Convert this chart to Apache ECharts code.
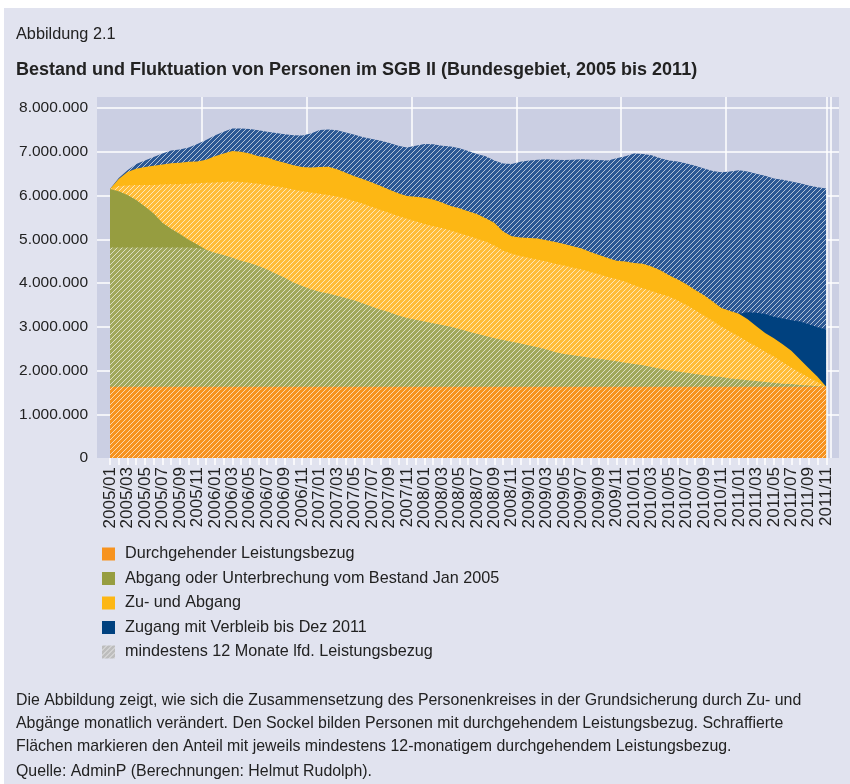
<!DOCTYPE html>
<html>
<head>
<meta charset="utf-8">
<script src="https://cdn.jsdelivr.net/npm/echarts@6/dist/echarts.min.js"></script>
<style>
  html, body { margin: 0; padding: 0; background: #fff; }
  #chart { width: 850px; height: 784px; }
</style>
</head>
<body>
<div id="chart"></div>
<script>
// Monate 2005/01 bis 2011/11
const months = [
  '2005/01','2005/02','2005/03','2005/04','2005/05','2005/06','2005/07','2005/08','2005/09','2005/10','2005/11','2005/12',
  '2006/01','2006/02','2006/03','2006/04','2006/05','2006/06','2006/07','2006/08','2006/09','2006/10','2006/11','2006/12',
  '2007/01','2007/02','2007/03','2007/04','2007/05','2007/06','2007/07','2007/08','2007/09','2007/10','2007/11','2007/12',
  '2008/01','2008/02','2008/03','2008/04','2008/05','2008/06','2008/07','2008/08','2008/09','2008/10','2008/11','2008/12',
  '2009/01','2009/02','2009/03','2009/04','2009/05','2009/06','2009/07','2009/08','2009/09','2009/10','2009/11','2009/12',
  '2010/01','2010/02','2010/03','2010/04','2010/05','2010/06','2010/07','2010/08','2010/09','2010/10','2010/11','2010/12',
  '2011/01','2011/02','2011/03','2011/04','2011/05','2011/06','2011/07','2011/08','2011/09','2011/10','2011/11'
];

// Obergrenzen der Flaechen, in Tausend Personen
// Durchgehender Leistungsbezug (Sockel)
const sockel = [
  1630,1630,1630,1630,1630,1630,1630,1630,1630,1630,1630,1630,
  1630,1630,1630,1630,1630,1630,1630,1630,1630,1630,1630,1630,
  1630,1630,1630,1630,1630,1630,1630,1630,1630,1630,1630,1630,
  1630,1630,1630,1630,1630,1630,1630,1630,1630,1630,1630,1630,
  1630,1630,1630,1630,1630,1630,1630,1630,1630,1630,1630,1630,
  1630,1630,1630,1630,1630,1630,1630,1630,1630,1630,1630,1630,
  1630,1630,1630,1630,1630,1630,1630,1630,1630,1630,1630
];
// Abgang/Unterbrechung Bestand Jan 2005, schraffierter Teil
const abgangSchraffiert = [
  4810,4810,4810,4810,4810,4810,4810,4810,4810,4810,4800,4760,
  4690,4640,4580,4510,4460,4390,4310,4210,4120,4010,3930,3860,
  3800,3760,3710,3660,3600,3530,3460,3390,3330,3260,3200,3160,
  3120,3080,3040,3000,2950,2890,2840,2790,2740,2700,2660,2620,
  2570,2530,2480,2420,2380,2350,2320,2290,2270,2240,2210,2180,
  2150,2120,2080,2040,2000,1980,1950,1920,1890,1870,1850,1820,
  1800,1780,1760,1740,1720,1700,1690,1670,1660,1640,1630
];
// Abgang/Unterbrechung Bestand Jan 2005, ungeschraffiert (nur 2005)
const abgangGesamt = [
  6150,6100,6010,5900,5750,5590,5380,5240,5120,4990,4880,4760
];
// Zu- und Abgang, schraffiert
const zuAbgangSchraffiert = [
  6150,6220,6230,6240,6240,6240,6250,6260,6260,6270,6280,6290,
  6300,6310,6320,6310,6290,6270,6240,6210,6180,6140,6100,6070,
  6040,6010,5980,5930,5870,5810,5740,5670,5600,5530,5470,5410,
  5350,5300,5260,5200,5140,5080,5010,4950,4860,4740,4670,4620,
  4570,4530,4490,4440,4400,4350,4310,4250,4200,4140,4090,4030,
  3950,3880,3820,3750,3690,3600,3500,3380,3260,3130,3000,2890,
  2780,2660,2550,2430,2320,2190,2070,1950,1840,1730,1630
];
// Zu- und Abgang, gesamt
const zuAbgangGesamt = [
  6150,6380,6540,6610,6650,6680,6710,6740,6750,6770,6780,6820,
  6900,6960,7020,7000,6960,6900,6870,6800,6750,6690,6650,6640,
  6650,6660,6600,6520,6440,6370,6300,6220,6130,6050,5990,5970,
  5950,5910,5840,5760,5710,5640,5580,5480,5380,5180,5070,5040,
  5030,5020,4980,4940,4890,4840,4790,4710,4640,4570,4510,4490,
  4460,4440,4380,4290,4180,4080,3970,3840,3720,3580,3430,3360,
  3300,3170,3010,2860,2740,2600,2450,2250,2050,1860,1630
];
// Zugang mit Verbleib bis Dez 2011, ungeschraffiert (nur 2011)
const verbleibMonate = ['2011/01','2011/02','2011/03','2011/04','2011/05','2011/06','2011/07','2011/08','2011/09','2011/10','2011/11'];
const zugangVerbleib = [3300,3330,3320,3290,3230,3190,3150,3120,3060,2990,2940];
// Bestand gesamt (Oberkante)
const bestandGesamt = [
  6150,6400,6580,6720,6800,6880,6960,7030,7050,7100,7180,7270,
  7370,7460,7530,7530,7520,7490,7460,7430,7400,7380,7370,7420,
  7500,7510,7490,7440,7390,7330,7290,7250,7200,7140,7100,7140,
  7180,7170,7140,7120,7080,7020,6950,6900,6800,6730,6720,6770,
  6800,6820,6830,6820,6810,6820,6830,6820,6810,6800,6850,6900,
  6960,6950,6920,6850,6800,6780,6730,6680,6620,6560,6530,6550,
  6580,6550,6500,6450,6390,6360,6320,6280,6230,6190,6160
];

const FONT = '"Liberation Sans", Arial, sans-serif';
const TXT = '#222';

// Schraffur als Canvas-Muster
function hatch(base) {
  const s = 5;
  const c = document.createElement('canvas');
  c.width = s; c.height = s;
  const ctx = c.getContext('2d');
  ctx.fillStyle = base;
  ctx.fillRect(0, 0, s, s);
  ctx.strokeStyle = 'rgba(255,255,255,0.8)';
  ctx.lineWidth = 0.8;
  ctx.beginPath();
  for (let k = -1; k <= 1; k++) {
    ctx.moveTo(k * s, s);
    ctx.lineTo(k * s + s, 0);
  }
  ctx.stroke();
  return { image: c, repeat: 'repeat' };
}

function area(name, data, fill) {
  return {
    name: name,
    type: 'line',
    xAxisIndex: 1,
    yAxisIndex: 1,
    data: data,
    symbol: 'none',
    silent: true,
    lineStyle: { width: 0 },
    itemStyle: { color: typeof fill === 'string' ? fill : '#888' },
    areaStyle: { color: fill, opacity: 1 }
  };
}

const fmt = v => String(Math.round(v * 1000)).replace(/\B(?=(\d{3})+(?!\d))/g, '.');

let chart = echarts.init(document.getElementById('chart'), null, { renderer: 'canvas' });

let option = {
  animation: false,
  backgroundColor: '#fff',
  graphic: [
    { type: 'rect', z: -10, shape: { x: 4, y: 8, width: 846, height: 776 }, style: { fill: '#e1e3ef' } },
    { type: 'text', x: 16, y: 35, style: { text: 'Abbildung 2.1', font: '16.3px ' + FONT, fill: TXT, verticalAlign: 'middle' } },
    { type: 'text', x: 16, y: 70, style: { text: 'Bestand und Fluktuation von Personen im SGB II (Bundesgebiet, 2005 bis 2011)', font: 'bold 18px ' + FONT, fill: TXT, verticalAlign: 'middle' } },
    { type: 'text', x: 16, y: 701, style: { text: 'Die Abbildung zeigt, wie sich die Zusammensetzung des Personenkreises in der Grundsicherung durch Zu- und', font: '15.9px ' + FONT, fill: TXT, verticalAlign: 'middle' } },
    { type: 'text', x: 16, y: 724, style: { text: 'Abgänge monatlich verändert. Den Sockel bilden Personen mit durchgehendem Leistungsbezug. Schraffierte', font: '15.9px ' + FONT, fill: TXT, verticalAlign: 'middle' } },
    { type: 'text', x: 16, y: 747, style: { text: 'Flächen markieren den Anteil mit jeweils mindestens 12-monatigem durchgehendem Leistungsbezug.', font: '15.9px ' + FONT, fill: TXT, verticalAlign: 'middle' } },
    { type: 'text', x: 16, y: 772, style: { text: 'Quelle: AdminP (Berechnungen: Helmut Rudolph).', font: '15.9px ' + FONT, fill: TXT, verticalAlign: 'middle' } }
  ],
  legend: {
    orient: 'vertical',
    left: 97,
    top: 541,
    itemWidth: 13,
    itemHeight: 13,
    itemGap: 8.5,
    icon: 'rect',
    selectedMode: false,
    textStyle: { fontSize: 16.2, lineHeight: 14, color: TXT, fontFamily: FONT, padding: [0, 0, 0, 5] },
    data: [
      { name: 'Durchgehender Leistungsbezug', itemStyle: { color: '#f7931e' } },
      { name: 'Abgang oder Unterbrechung vom Bestand Jan 2005', itemStyle: { color: '#969d40' } },
      { name: 'Zu- und Abgang', itemStyle: { color: '#fdb714' } },
      { name: 'Zugang mit Verbleib bis Dez 2011', itemStyle: { color: '#00417f' } },
      { name: 'mindestens 12 Monate lfd. Leistungsbezug', itemStyle: { color: hatch('#bdbdbd') } }
    ]
  },
  grid: [
    // Hintergrund
    { left: 97, top: 97, width: 742, height: 361, show: true, backgroundColor: '#cbcfe3', borderWidth: 0 },
    // Daten
    { left: 110, top: 108, width: 716.27, height: 350 }
  ],
  xAxis: [
    {
      gridIndex: 0, type: 'value', min: -1.4883, max: 83.457, interval: 12,
      axisLine: { show: false }, axisTick: { show: false }, axisLabel: { show: false },
      splitLine: { show: true, showMinLine: false, showMaxLine: false, lineStyle: { color: '#fff', width: 1.5 } }
    },
    {
      gridIndex: 1, type: 'category', data: months, boundaryGap: false,
      axisLine: { show: false },
      axisTick: { show: true, interval: 0, length: 7, lineStyle: { color: '#fff', width: 1.5 } },
      axisLabel: { interval: 1, rotate: 90, margin: 9, fontSize: 17, color: TXT, fontFamily: FONT },
      splitLine: { show: false }
    }
  ],
  yAxis: [
    {
      gridIndex: 0, type: 'value', min: 0, max: 8251.43, interval: 1000,
      axisLine: { show: false }, axisTick: { show: false }, axisLabel: { show: false },
      splitLine: { show: true, showMinLine: false, showMaxLine: false, lineStyle: { color: '#fff', width: 1.5 } }
    },
    {
      gridIndex: 1, type: 'value', min: 0, max: 8000, interval: 1000,
      axisLine: { show: false }, axisTick: { show: false },
      axisLabel: { margin: 22, fontSize: 15.5, color: TXT, fontFamily: FONT, formatter: fmt },
      splitLine: { show: false }
    }
  ],
  series: [
    {
      type: 'line', xAxisIndex: 0, yAxisIndex: 0, data: [], silent: true,
      markLine: { silent: true, symbol: 'none', label: { show: false }, lineStyle: { color: '#fff', width: 1.5, type: 'solid' }, data: [{ xAxis: 82 }] }
    },
    area('Zugang mit Verbleib bis Dez 2011 (12+)', bestandGesamt, hatch('#2c5894')),
    area('Zugang mit Verbleib bis Dez 2011', zugangVerbleib.map((v, k) => [verbleibMonate[k], v]), '#00417f'),
    area('Zu- und Abgang', zuAbgangGesamt, '#fdb714'),
    area('Zu- und Abgang (12+)', zuAbgangSchraffiert, hatch('#ffbd38')),
    area('Abgang oder Unterbrechung vom Bestand Jan 2005', abgangGesamt, '#969d40'),
    area('Abgang oder Unterbrechung (12+)', abgangSchraffiert, hatch('#a1a85c')),
    area('Durchgehender Leistungsbezug', sockel, hatch('#f7931e')),
    area('mindestens 12 Monate lfd. Leistungsbezug', [], hatch('#bdbdbd'))
  ]
};

chart.setOption(option);
</script>
</body>
</html>
